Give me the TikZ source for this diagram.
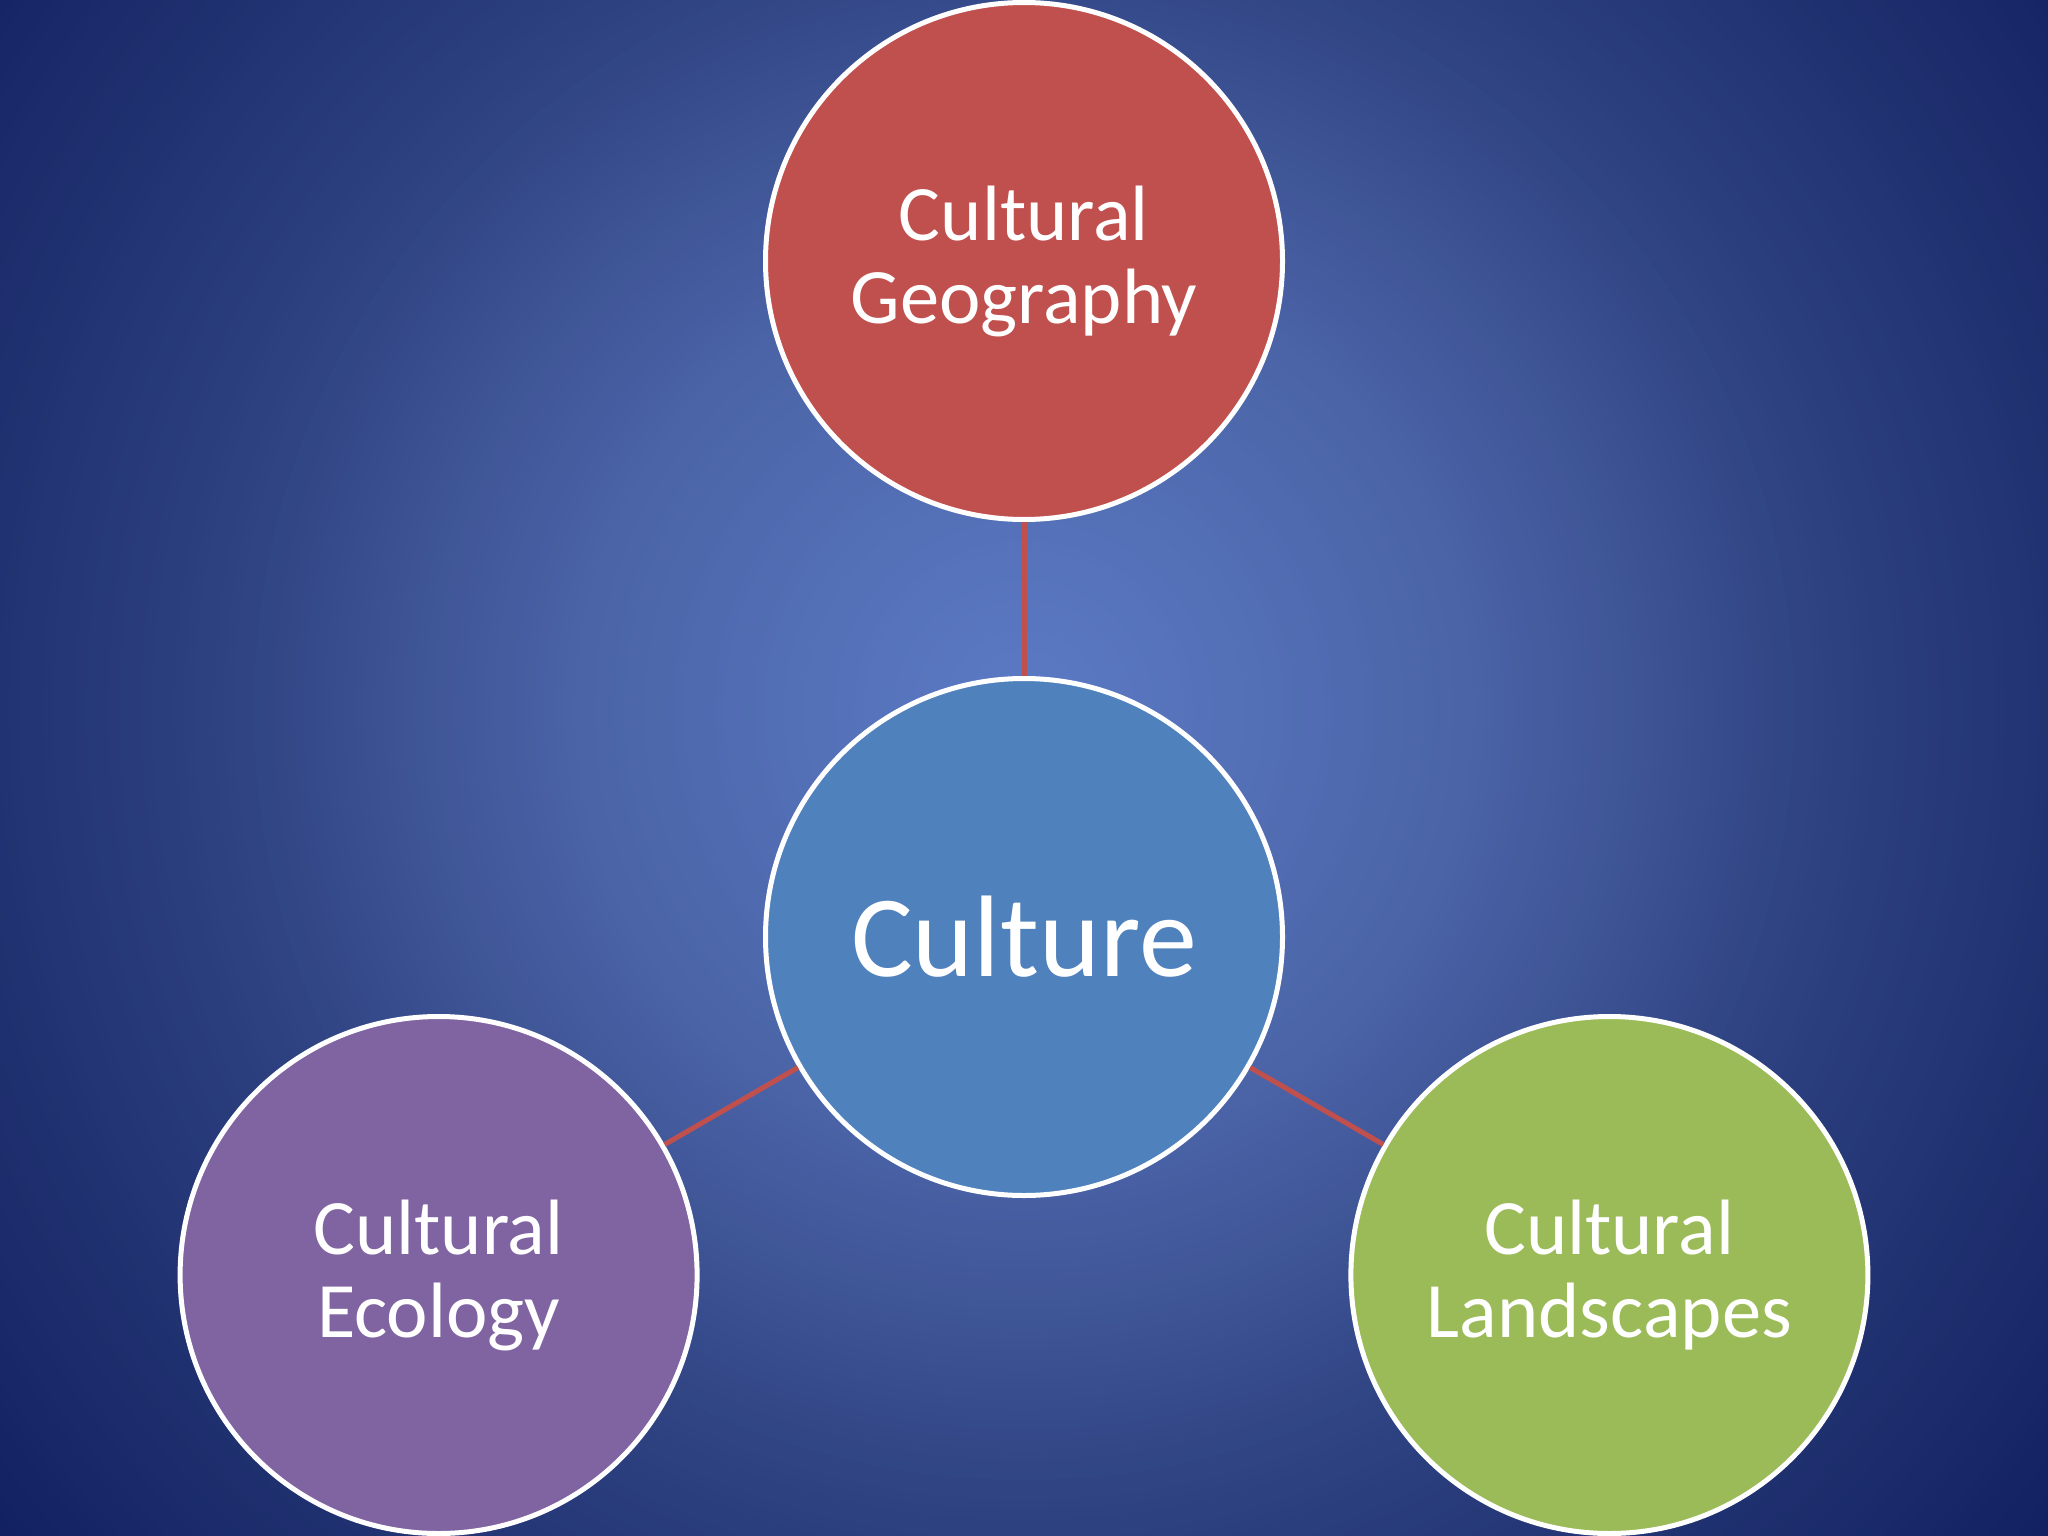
\documentclass[tikz,border=0pt]{standalone}
\usepackage{fontspec}
\setmainfont{Carlito}
\definecolor{cedge}{HTML}{0E1C5C}
\definecolor{couter}{HTML}{2B3E7D}
\definecolor{cmid}{HTML}{4B64A7}
\definecolor{ccen}{HTML}{5C7BC6}
\definecolor{geored}{HTML}{C0504D}
\definecolor{culblue}{HTML}{4F81BD}
\definecolor{ecopurple}{HTML}{8064A2}
\definecolor{landgreen}{HTML}{9BBB59}
\definecolor{linkred}{HTML}{C0504D}
\tikzset{
  bub/.style={circle, draw=white, line width=5pt, minimum size=517pt, inner sep=0pt,
    text=white, align=center, font=\fontsize{78.5}{83}\selectfont},
  bigbub/.style={bub, font=\fontsize{116}{120}\selectfont},
  link/.style={draw=linkred, line width=5pt}
}
\begin{document}
\begin{tikzpicture}[x=1pt,y=-1pt]
\useasboundingbox (0,0) rectangle (2048,1536);
\begin{scope}
  \clip (0,0) rectangle (2048,1536);
  \fill[cedge] (0,0) rectangle (2048,1536);
  \coordinate (gc) at (1024,710);
  \foreach \i in {0,...,49} {
    \pgfmathsetmacro\rr{1400-\i*11}
    \pgfmathtruncatemacro\pp{\i*2}
    \fill[couter!\pp!cedge] (gc) circle (\rr);
  }
  \foreach \i in {0,...,39} {
    \pgfmathsetmacro\rr{850-\i*10}
    \pgfmathtruncatemacro\pp{\i*2.5}
    \fill[cmid!\pp!couter] (gc) circle (\rr);
  }
  \foreach \i in {0,...,44} {
    \pgfmathsetmacro\rr{450-\i*10}
    \pgfmathtruncatemacro\pp{\i*2.2222}
    \fill[ccen!\pp!cmid] (gc) circle (\rr);
  }
\end{scope}

\node[bigbub, fill=culblue] (cul) at (1024,937) {Culture};
\node[bub, fill=geored] (geo) at (1024,261) {Cultural\\Geography};
\node[bub, fill=ecopurple] (eco) at (438.6,1275) {Cultural\\Ecology};
\node[bub, fill=landgreen] (land) at (1609.4,1275) {Cultural\\Landscapes};

\draw[link] (geo) -- (cul);
\draw[link] (cul) -- (eco);
\draw[link] (cul) -- (land);
\end{tikzpicture}
\end{document}
